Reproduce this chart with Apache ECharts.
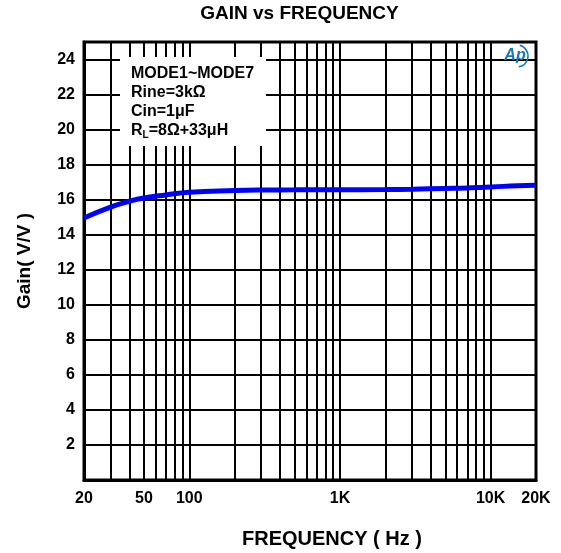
<!DOCTYPE html>
<html><head><meta charset="utf-8">
<script src="https://cdn.jsdelivr.net/npm/echarts@6/dist/echarts.min.js"></script>
<style>html,body{margin:0;padding:0;background:#fff}#c{width:561px;height:553px}</style>
</head><body><div id="c"></div>
<script>
const freqHz = [20, 30, 40, 50, 70, 100, 200, 300, 500, 1000, 2000, 3000, 5000, 7000, 10000, 15000, 20000];
const gainVV = [14.95, 15.57, 15.91, 16.1, 16.27, 16.42, 16.52, 16.55, 16.56, 16.57, 16.58, 16.6, 16.64, 16.67, 16.72, 16.8, 16.83];
const xGridFreqs = [20,30,40,50,60,70,80,90,100,200,300,400,500,600,700,800,900,1000,2000,3000,4000,5000,6000,7000,8000,9000,10000,20000];
const xLabelFreqs = [20,50,100,1000,10000,20000];
const xLabelTexts = ['20','50','100','1K','10K','20K'];
const yTickLabels = ['2','4','6','8','10','12','14','16','18','20','22','24'];
const legendLines = ['MODE1~MODE7','Rine=3kΩ','Cin=1μF','R{sub|L}=8Ω+33μH'];
const titleText = 'GAIN vs FREQUENCY';
const xName = 'FREQUENCY ( Hz )';
const yName = 'Gain( V/V )';

const FONT = '"Liberation Sans", Arial, sans-serif';
const chart = echarts.init(document.getElementById('c'), null, {renderer: 'canvas'});
const data = freqHz.map((f, i) => [f, gainVV[i]]);

chart.setOption({
  animation: false,
  backgroundColor: '#fff',
  grid: {left: 84, right: 25, top: 42, bottom: 73, show: true, borderColor: '#000', borderWidth: 3, backgroundColor: 'transparent', z: 3},
  xAxis: {
    type: 'log', logBase: 10, min: 20, max: 20000,
    axisLine: {show: true, lineStyle: {color: '#000', width: 3}},
    axisTick: {show: false, customValues: xGridFreqs},
    splitLine: {show: true, lineStyle: {color: '#000', width: 2}},
    minorTick: {show: false}, minorSplitLine: {show: false},
    axisLabel: {
      customValues: xLabelFreqs, margin: 11, color: '#000', fontWeight: 'bold', fontSize: 16, fontFamily: FONT,
      formatter: v => { const i = xLabelFreqs.findIndex(f => Math.abs(f - v) / f < 1e-6); return i >= 0 ? xLabelTexts[i] : ''; }
    }
  },
  yAxis: {
    type: 'value', min: 0, max: 25, interval: 2,
    name: yName, nameLocation: 'middle', nameGap: 50, nameRotate: 90,
    nameTextStyle: {color: '#000', fontWeight: 'bold', fontSize: 19, fontFamily: FONT},
    axisLine: {show: true, lineStyle: {color: '#000', width: 3}},
    axisTick: {show: false},
    splitLine: {show: true, lineStyle: {color: '#000', width: 2}},
    axisLabel: {
      margin: 9, color: '#000', fontWeight: 'bold', fontSize: 16, fontFamily: FONT,
      formatter: v => yTickLabels.indexOf(String(v)) >= 0 ? String(v) : ''
    }
  },
  series: [{
    type: 'line', data: data, smooth: true, showSymbol: false, z: 5,
    lineStyle: {color: '#0000ff', width: 5}, itemStyle: {color: '#0000ff'}
  }],
  graphic: [
    {type: 'text', x: 299.5, y: 14, z: 10, style: {text: titleText, fill: '#000', font: 'bold 19px ' + FONT, align: 'center', verticalAlign: 'middle'}},
    {type: 'text', x: 332, y: 539, z: 10, style: {text: xName, fill: '#000', font: 'bold 20px ' + FONT, align: 'center', verticalAlign: 'middle'}},
    {type: 'rect', shape: {x: 120, y: 57, width: 146, height: 89}, style: {fill: '#fff'}, z: 8},
    {type: 'text', x: 131, y: 64, z: 9, style: {
      text: legendLines.join('\n'), fill: '#000', font: 'bold 16px ' + FONT, lineHeight: 19,
      rich: {sub: {fontSize: 10, fontWeight: 'bold', fontFamily: FONT, verticalAlign: 'bottom', padding: [7, 0, 0, 0], lineHeight: 19}}
    }},
    {type: 'text', x: 515, y: 56, z: 10, style: {text: 'Ap', fill: '#1a78b8', font: 'italic bold 16px ' + FONT, align: 'center', verticalAlign: 'middle'}},
    {type: 'arc', z: 10, shape: {cx: 517, cy: 56, r: 11, startAngle: -Math.PI * 0.42, endAngle: Math.PI * 0.45}, style: {stroke: '#1a78b8', lineWidth: 1.5, fill: null}}
  ]
});
</script></body></html>
